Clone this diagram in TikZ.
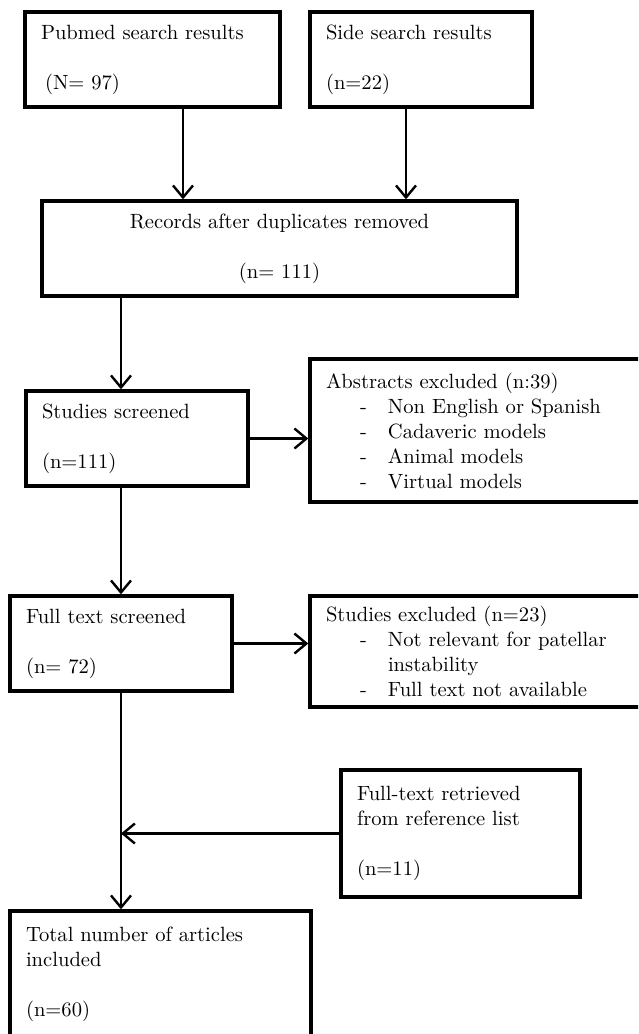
\documentclass[tikz,border=0pt]{standalone}
\usepackage{fontspec}
\usepackage{tikz}
\usetikzlibrary{arrows.meta, positioning, calc}

\newcommand{\dashitem}[1]{\hspace*{17pt}\makebox[14pt][l]{-}#1}

\begin{document}
\begin{tikzpicture}[
    x=0.5pt, y=-0.5pt,
    box/.style={draw, line width=1.7pt, align=left, inner xsep=8pt, inner ysep=0pt,
                font=\fontsize{10.3}{12.5}\selectfont\addfontfeatures{FakeBold=0.35}},
    arr/.style={-{Straight Barb[length=6pt, width=10pt]}, line width=1.2pt},
]
    \useasboundingbox (0,0) rectangle (638,1034);
    \clip (0,0) rectangle (638,1034);

    %==================== IDENTIFICATION ====================
    \node[box, text width=111.5pt, minimum height=47.5pt] (pub) at (152.5,59.5)
        {Pubmed search results\\[12.5pt]\hspace*{2pt}(N= 97)};
    \node[box, text width=95pt, minimum height=47.5pt] (side) at (421,59.5)
        {Side search results\\[12.5pt](n=22)};

    %==================== DUPLICATES ====================
    \node[box, align=center, text width=221.5pt, minimum height=47.5pt] (rec) at (279.5,248.5)
        {Records after duplicates removed\\[12.5pt](n= 111)};
    \draw[arr] ([xshift=15.25pt]pub.south) -- ([xshift=15.25pt]pub.south |- rec.north);
    \draw[arr] ([xshift=-7.5pt]side.south) -- ([xshift=-7.5pt]side.south |- rec.north);

    %==================== SCREENING ====================
    \node[box, text width=95pt, minimum height=47.5pt] (scr) at (137,438.5)
        {Studies screened\\[12.5pt](n=111)};
    \node[box, text width=160pt, minimum height=71.5pt] (abs) at (486,430.5)
        {Abstracts excluded (n:39)\\
         \dashitem{Non English or Spanish}\\
         \dashitem{Cadaveric models}\\
         \dashitem{Animal models}\\
         \dashitem{Virtual models}};
    \draw[arr] (scr.east) -- (scr.east -| abs.west);

    %==================== ELIGIBILITY ====================
    \node[box, text width=95pt, minimum height=47.5pt] (full) at (121,643.5)
        {Full text screened\\[12.5pt](n= 72)};
    \node[box, text width=160pt, minimum height=55.5pt] (sexc) at (486,651.5)
        {Studies excluded (n=23)\\
         \dashitem{Not relevant for patellar}\\
         \hspace*{31pt}instability\\
         \dashitem{Full text not available}};
    \draw[arr] (full.east) -- (full.east -| sexc.west);

    \draw[arr] (rec.south -| full.north) -- (scr.north -| full.north);
    \draw[arr] (scr.south -| full.north) -- (full.north);

    %==================== INCLUDED ====================
    \node[box, text width=103.5pt, minimum height=63.5pt] (ret) at (460.5,833.5)
        {Full-text retrieved\\from reference list\\[12.5pt](n=11)};
    \node[box, text width=134.5pt, minimum height=63pt] (tot) at (160.5,974)
        {Total number of articles\\included\\[12.5pt](n=60)};
    \draw[arr] (full.south) -- (full.south |- tot.north);
    \draw[arr] (ret.west) -- (ret.west -| full.south);

\end{tikzpicture}
\end{document}
